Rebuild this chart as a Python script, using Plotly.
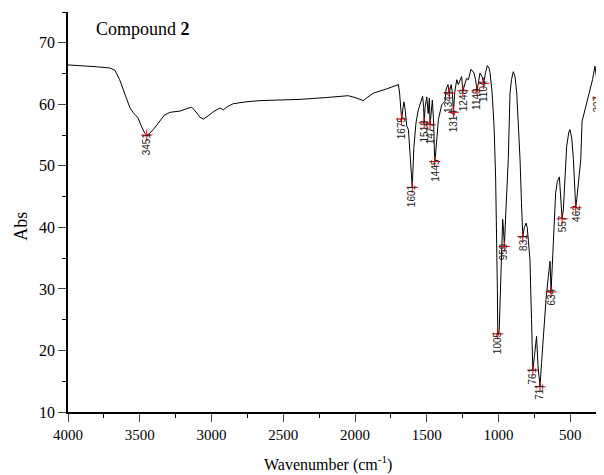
import plotly.graph_objects as go

wavenumber = [4000, 3900, 3800, 3707, 3672, 3640, 3615, 3590, 3568, 3540, 3512, 3490, 3465, 3451,
              3435, 3405, 3370, 3330, 3289, 3220, 3160, 3138, 3120, 3103, 3080, 3057, 3030, 2987,
              2941, 2918, 2890, 2848, 2760, 2662, 2500, 2383, 2200, 2047, 2000, 1942, 1910, 1873,
              1780, 1698, 1690, 1686, 1675, 1665, 1659, 1650, 1640, 1628, 1615, 1601, 1590, 1575,
              1559, 1540, 1529, 1522, 1518, 1512, 1500, 1490, 1482, 1477, 1470, 1461, 1452, 1445,
              1440, 1432, 1419, 1396, 1373, 1365, 1352, 1344, 1330, 1322, 1314, 1305, 1291, 1280,
              1257, 1248, 1235, 1223, 1210, 1192, 1171, 1160, 1149, 1140, 1129, 1115, 1104, 1090,
              1078, 1065, 1059, 1045, 1031, 1020, 1013, 1008, 1005, 1000, 995, 985, 975, 971, 965,
              959, 950, 940, 932, 920, 910, 897, 885, 873, 860, 850, 840, 831, 820, 808, 800, 781,
              770, 761, 750, 740, 735, 725, 711, 700, 690, 683, 669, 653, 641, 634, 625, 618, 602,
              590, 576, 565, 557, 548, 536, 525, 510, 502, 490, 478, 467, 462, 455, 440, 427, 418,
              397, 380, 362, 345, 328, 318, 307, 295, 285, 274, 268]
absorbance = [66.4, 66.3, 66.1, 65.9, 65.5, 64.0, 62.3, 60.8, 59.4, 58.5, 57.8, 56.5, 55.3, 55.0,
              55.2, 55.9, 57.0, 58.2, 58.7, 58.9, 59.4, 59.5, 59.1, 58.6, 57.9, 57.6, 58.0, 58.8,
              59.4, 59.1, 59.6, 60.1, 60.4, 60.6, 60.7, 60.8, 61.1, 61.4, 61.1, 60.6, 61.2, 61.8,
              62.5, 63.2, 62.0, 60.7, 57.6, 59.5, 60.4, 59.0, 56.5, 55.9, 52.0, 46.5, 53.0, 57.0,
              59.1, 60.5, 61.3, 59.5, 57.0, 59.5, 61.2, 58.5, 61.0, 56.7, 59.0, 60.7, 57.0, 50.7,
              51.5, 54.0, 57.5, 59.9, 60.5, 62.5, 63.2, 61.8, 63.2, 62.0, 58.7, 62.0, 64.0, 63.2,
              64.5, 62.2, 63.5, 64.2, 64.0, 65.7, 65.1, 64.0, 62.2, 63.5, 65.1, 64.5, 63.4, 65.2,
              66.3, 65.8, 65.1, 62.0, 56.4, 48.0, 40.2, 30.0, 22.7, 22.5, 23.5, 32.0, 40.0, 41.3, 39.5,
              36.9, 42.0, 47.0, 51.0, 61.8, 64.0, 65.3, 64.5, 61.8, 56.0, 51.0, 44.0, 38.5, 40.0, 40.7,
              40.0, 34.8, 25.0, 16.8, 19.0, 22.0, 22.3, 17.5, 14.1, 18.0, 22.0, 23.9, 28.3, 32.0, 34.5,
              29.5, 33.0, 37.5, 45.6, 47.5, 48.2, 45.0, 41.4, 43.0, 48.3, 53.2, 55.5, 55.9, 54.5, 51.0,
              45.6, 43.2, 44.5, 48.0, 51.0, 57.2, 59.1, 60.5, 62.4, 64.0, 66.2, 64.5, 61.0, 62.5, 65.5,
              66.1, 65.5]

peak_wn = [3451, 1675, 1601, 1518, 1477, 1445, 1344, 1314, 1248, 1149, 1104, 1005, 959, 831,
           761, 711, 634, 557, 462, 307]
peak_abs = [55.0, 57.6, 46.5, 57.0, 56.7, 50.7, 61.8, 58.7, 62.2, 62.2, 63.4, 22.7, 36.9, 38.5,
            16.8, 14.1, 29.5, 41.4, 43.2, 61.0]
peak_labels = [str(w) for w in peak_wn]

x_tick_vals = [4000, 3500, 3000, 2500, 2000, 1500, 1000, 500]
y_tick_vals = [10, 20, 30, 40, 50, 60, 70]

serif = "Liberation Serif, Times New Roman, serif"

fig = go.Figure()
fig.add_trace(go.Scatter(x=wavenumber, y=absorbance, mode="lines",
                         line=dict(color="black", width=1), hoverinfo="skip", showlegend=False))
fig.add_trace(go.Scatter(x=peak_wn, y=peak_abs, mode="markers",
                         marker=dict(symbol="cross-thin", size=8, line=dict(color="red", width=1)),
                         showlegend=False))

for w, a, t in zip(peak_wn, peak_abs, peak_labels):
    fig.add_annotation(x=w, y=a, text=t, showarrow=False, textangle=-90,
                       xanchor="center", yanchor="top", yshift=5,
                       font=dict(family="Liberation Sans, Arial, sans-serif", size=10, color="#222"))

fig.add_annotation(xref="paper", yref="paper", x=0.048, y=0.9575, xanchor="left", yanchor="middle",
                   text="Compound <b>2</b>", showarrow=False,
                   font=dict(family=serif, size=18, color="black"))
fig.add_annotation(xref="paper", yref="paper", x=0.485, y=-0.13, xanchor="center", yanchor="middle",
                   text="Wavenumber (cm<sup>-1</sup>)", showarrow=False,
                   font=dict(family=serif, size=16, color="black"))
fig.add_annotation(xref="paper", yref="paper", x=-0.088, y=0.465, xanchor="center", yanchor="middle",
                   text="Abs", showarrow=False, textangle=-90,
                   font=dict(family=serif, size=18, color="black"))

fig.update_layout(
    width=596, height=467,
    margin=dict(l=60, r=0, t=4, b=63, autoexpand=False),
    paper_bgcolor="white", plot_bgcolor="white",
    font=dict(family=serif, size=15, color="black"),
    xaxis=dict(range=[4000, 265], tickvals=x_tick_vals, ticks="outside", ticklen=8, tickwidth=1.2,
               showline=True, linecolor="black", linewidth=1.5, showgrid=False, zeroline=False,
               automargin=False,
               minor=dict(dtick=250, tick0=0, ticks="outside", ticklen=4, tickwidth=1.2, tickcolor="black"),
               tickfont=dict(family=serif, size=15)),
    yaxis=dict(range=[10, 75], tickvals=y_tick_vals, ticks="outside", ticklen=8, tickwidth=1.2,
               showline=True, linecolor="black", linewidth=1.5, showgrid=False, zeroline=False,
               automargin=False,
               minor=dict(dtick=5, tick0=0, ticks="outside", ticklen=4, tickwidth=1.2, tickcolor="black"),
               tickfont=dict(family=serif, size=16)),
)

fig.write_html("out.html")
